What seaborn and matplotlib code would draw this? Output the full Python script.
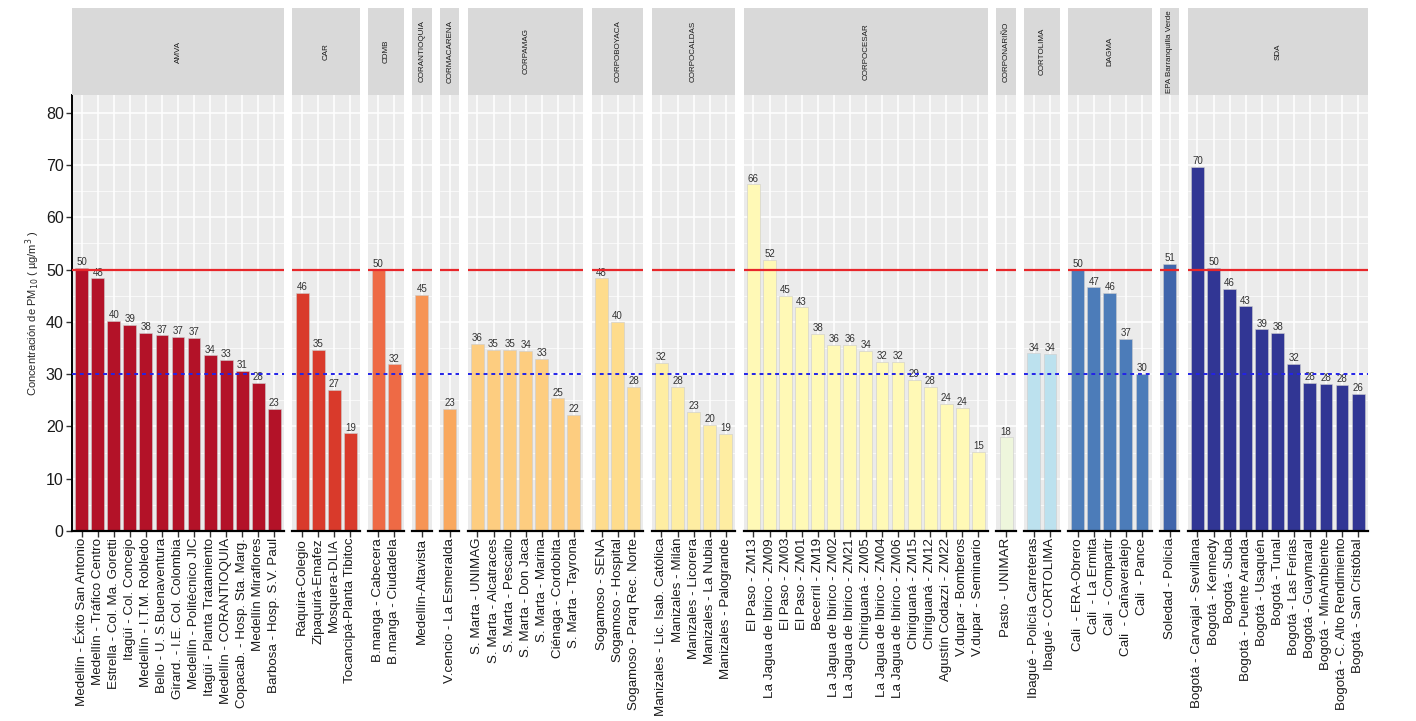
import numpy as np
import pandas as pd
import matplotlib
matplotlib.use("Agg")
import matplotlib.pyplot as plt
import seaborn as sns

# autoridades ambientales (facetas) y numero de estaciones en cada una
agencias = ["AMVA", "CAR", "CDMB", "CORANTIOQUIA", "CORMACARENA", "CORPAMAG",
            "CORPOBOYACA", "CORPOCALDAS", "CORPOCESAR", "CORPONARIÑO", "CORTOLIMA",
            "DAGMA", "EPA Barranquilla Verde", "SDA"]
n_estaciones = [13, 4, 2, 1, 1, 7, 3, 5, 15, 1, 2, 5, 1, 11]
colores = ["#B31228", "#D93A2B", "#EE6A45", "#F69455", "#F9A85E", "#FDCD80",
           "#FEDC8C", "#FEEDA2", "#FFF9B6", "#EEF6DC", "#BCE1EE", "#4C7CB9",
           "#4065AB", "#313694"]

estaciones = [
    # AMVA
    "Medellín - Éxito San Antonio", "Medellín - Tráfico Centro", "Estrella - Col. Ma. Goretti",
    "Itagüí - Col. Concejo", "Medellín - I.T.M. Robledo", "Bello - U. S.Buenaventura",
    "Girard. - I.E. Col. Colombia", "Medellín - Politécnico JIC", "Itagüí - Planta Tratamiento",
    "Medellín - CORANTIOQUIA", "Copacab. - Hosp. Sta. Marg.", "Medellín Miraflores",
    "Barbosa - Hosp. S.V. Paul",
    # CAR
    "Ráquira-Colegio", "Zipaquirá-Emafez", "Mosquera-DLIA", "Tocancipá-Planta Tibitoc",
    # CDMB
    "B.manga - Cabecera", "B.manga - Ciudadela",
    # CORANTIOQUIA
    "Medellín-Altavista",
    # CORMACARENA
    "V.cencio - La Esmeralda",
    # CORPAMAG
    "S. Marta - UNIMAG", "S. Marta - Alcatraces", "S. Marta - Pescaito", "S. Marta - Don Jaca",
    "S. Marta - Marina", "Ciénaga - Cordobita", "S. Marta - Tayrona",
    # CORPOBOYACA
    "Sogamoso - SENA", "Sogamoso - Hospital", "Sogamoso - Parq Rec. Norte",
    # CORPOCALDAS
    "Manizales - Lic. Isab. Católica", "Manizales - Milán", "Manizales - Licorera",
    "Manizales - La Nubia", "Manizales - Palogrande",
    # CORPOCESAR
    "El Paso - ZM13", "La Jagua de Ibirico - ZM09", "El Paso - ZM03", "El Paso - ZM01",
    "Becerril - ZM19", "La Jagua de Ibirico - ZM02", "La Jagua de Ibirico - ZM21",
    "Chiriguaná - ZM05", "La Jagua de Ibirico - ZM04", "La Jagua de Ibirico - ZM06",
    "Chiriguaná - ZM15", "Chiriguaná - ZM12", "Agustín Codazzi - ZM22",
    "V.dupar - Bomberos", "V.dupar - Seminario",
    # CORPONARIÑO
    "Pasto - UNIMAR",
    # CORTOLIMA
    "Ibagué - Policía Carreteras", "Ibagué - CORTOLIMA",
    # DAGMA
    "Cali  - ERA-Obrero", "Cali  - La Ermita", "Cali  - Compartir", "Cali  - Cañaveralejo",
    "Cali  - Pance",
    # EPA
    "Soledad - Policía",
    # SDA
    "Bogotá - Carvajal - Sevillana", "Bogotá - Kennedy", "Bogotá - Suba",
    "Bogotá - Puente Aranda", "Bogotá - Usaquén", "Bogotá - Tunal", "Bogotá - Las Ferias",
    "Bogotá - Guaymaral", "Bogotá - MinAmbiente", "Bogotá - C. Alto Rendimiento",
    "Bogotá - San Cristóbal",
]

pm10 = [
    50.3, 48.3, 40.2, 39.4, 37.9, 37.4, 37.2, 36.9, 33.6, 32.7, 30.6, 28.4, 23.3,
    45.6, 34.6, 27.0, 18.7,
    49.9, 31.9,
    45.2,
    23.3,
    35.8, 34.7, 34.7, 34.4, 32.9, 25.4, 22.2,
    48.3, 40.0, 27.6,
    32.2, 27.6, 22.8, 20.3, 18.6,
    66.3, 51.9, 45.0, 42.8, 37.7, 35.6, 35.6, 34.4, 32.3, 32.3, 28.9, 27.6, 24.3, 23.6, 15.2,
    17.9,
    34.0, 33.9,
    50.0, 46.6, 45.6, 36.7, 30.0,
    51.1,
    69.6, 50.3, 46.3, 43.0, 38.6, 37.9, 32.0, 28.3, 28.2, 28.0, 26.2,
]

df = pd.DataFrame({
    "agencia": np.repeat(agencias, n_estaciones),
    "estacion": estaciones,
    "pm10": pm10,
})

sns.set_style("darkgrid", {"axes.facecolor": "#EBEBEB", "grid.color": "white"})
plt.rcParams["font.family"] = ["Liberation Sans", "DejaVu Sans"]

W, H = 1416, 721
fig = plt.figure(figsize=(W / 100, H / 100), dpi=100)

u = 16.06      # px per bar slot
gap = 8.5      # px between panels
x = 72
y_strip, y_top, y_bot = 8, 95, 531

for i, ag in enumerate(agencias):
    sub = df[df["agencia"] == ag]
    n = len(sub)
    w = (n + 0.2) * u
    ax = fig.add_axes([x / W, 1 - y_bot / H, w / W, (y_bot - y_top) / H])
    st = fig.add_axes([x / W, 1 - y_top / H, w / W, (y_top - y_strip) / H])
    x += w + gap

    sns.barplot(data=sub, x="estacion", y="pm10", color=colores[i], saturation=1,
                width=0.8, edgecolor="#CCCCCC", linewidth=0.4, errorbar=None, ax=ax)
    ax.bar_label(ax.containers[0], labels=[f"{v:.0f}" for v in sub["pm10"]],
                 fontsize=7, padding=0.5, color="#333333")

    ax.axhline(50, color="#E8262A", lw=1.6, zorder=3)
    ax.axhline(30, color="#2323E8", lw=1.4, ls=(0, (2, 2)), zorder=3)

    ax.set_yticks(range(0, 81, 10))
    ax.set_yticks(range(5, 76, 10), minor=True)
    ax.set_xlim(-0.6, n - 0.4)
    ax.set_ylim(0, 83.4)
    ax.set_axisbelow(True)
    ax.grid(which="major", color="white", lw=1.1)
    ax.grid(which="minor", axis="y", color="white", lw=0.5)
    ax.set_xlabel("")
    ax.set_ylabel("")

    for s in ["top", "right", "left"]:
        ax.spines[s].set_visible(False)
    ax.spines["bottom"].set_visible(True)
    ax.spines["bottom"].set_color("black")
    ax.spines["bottom"].set_linewidth(1.6)

    ax.tick_params(axis="x", rotation=90, labelsize=9.6, length=4, width=1,
                   color="#333333", labelcolor="#1A1A1A", pad=1, bottom=True)
    ax.tick_params(which="minor", length=0)
    for lab in ax.get_xticklabels():
        lab.set_verticalalignment("top")
        lab.set_horizontalalignment("center")

    if i == 0:
        ax.spines["left"].set_visible(True)
        ax.spines["left"].set_color("black")
        ax.spines["left"].set_linewidth(1.4)
        ax.tick_params(axis="y", labelsize=11.5, length=4, width=1, color="#333333",
                       labelcolor="#1A1A1A", left=True, pad=2)
        ax.set_ylabel("Concentración de PM$_{10}$ ( µg/m$^{3}$ )", fontsize=8, labelpad=3)
    else:
        ax.tick_params(axis="y", left=False, labelleft=False)

    st.set_facecolor("#D9D9D9")
    st.set_xticks([])
    st.set_yticks([])
    st.grid(False)
    for s in st.spines.values():
        s.set_visible(False)
    st.text(0.5, 0.5, ag, rotation=90, ha="center", va="center",
            fontsize=5.8, color="#1A1A1A", transform=st.transAxes)

fig.savefig("out.png", dpi=100)
